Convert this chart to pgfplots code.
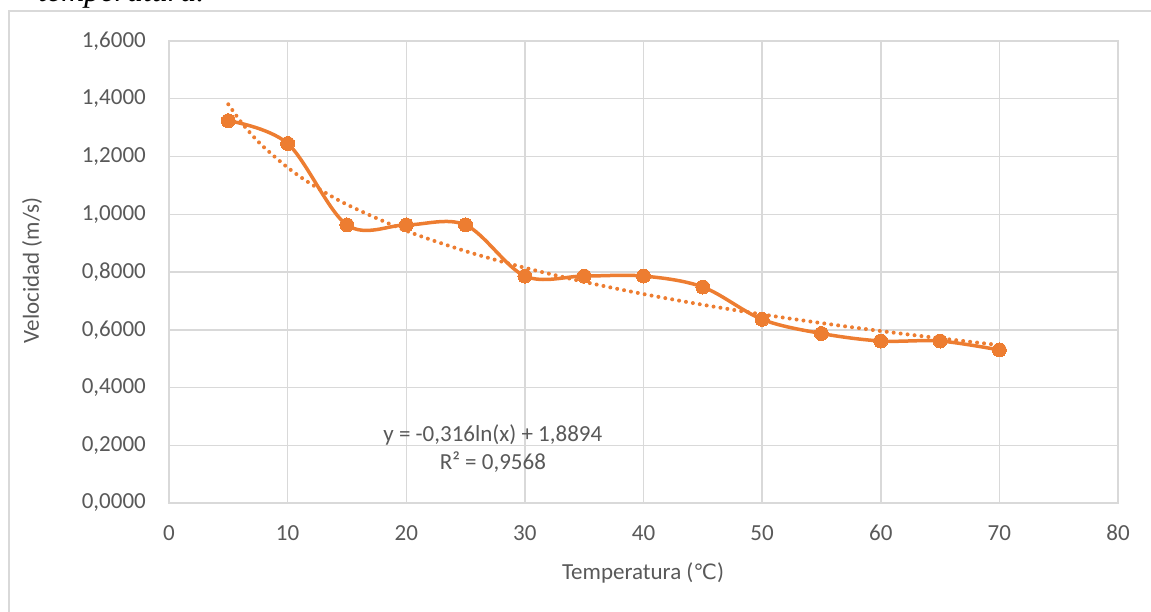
\documentclass[border=0pt]{standalone}
\usepackage{fontspec}
\setmainfont{Carlito}
\newfontfamily\timesfont{Liberation Serif}
\newfontfamily\symfont{DejaVu Sans}
\usepackage{pgfplots}
\pgfplotsset{compat=1.18}
\definecolor{xlorange}{HTML}{ED7D31}
\definecolor{gridgray}{HTML}{D9D9D9}
\definecolor{textgray}{HTML}{595959}

\begin{document}
\begin{tikzpicture}
\useasboundingbox (-169pt,-108pt) rectangle (982pt,503pt);
\clip (-169pt,-108pt) rectangle (982pt,503pt);
% chart frame (cropped in the reference)
\draw[gridgray, line width=1.5pt] (-160pt,-130pt) -- (-160pt,492pt) -- (1000pt,492pt);
\node[anchor=base west, inner sep=0pt, font=\fontsize{32}{36}\selectfont\timesfont\itshape]
  at (-131pt,501.5pt) {temperatura.};
\begin{axis}[
  at={(0pt,0pt)}, anchor=south west,
  scale only axis,
  width=949pt, height=462pt,
  xmin=0, xmax=80, ymin=0, ymax=1.6,
  xtick={0,10,20,30,40,50,60,70,80},
  ytick={0,0.2,0.4,0.6,0.8,1.0,1.2,1.4,1.6},
  grid=major,
  grid style={gridgray, line width=1.5pt},
  axis line style={gridgray, line width=1.5pt},
  major tick length=0pt,
  tick style={draw=none},
  tick label style={font=\fontsize{23}{27}\selectfont, text=textgray},
  yticklabel style={anchor=east, inner sep=0pt, xshift=-23pt,
    /pgf/number format/.cd, fixed, fixed zerofill, precision=4, use comma, 1000 sep={}},
  xticklabel style={anchor=center, inner sep=0pt, yshift=-30pt},
  /pgf/number format/assume math mode=true,
  xlabel={Temperatura ({\symfont\fontsize{21}{25}\selectfont ℃})},
  ylabel={Velocidad (m/s)},
  label style={font=\fontsize{23}{27}\selectfont, text=textgray},
  xlabel style={at={(axis description cs:0.4995,-0.1515)}, anchor=center, inner sep=0pt},
  ylabel style={at={(axis description cs:-0.1444,0.504)}, anchor=center, inner sep=0pt, rotate=0},
  clip=false,
]
% logarithmic trend line, values of y = -0.316 ln(x) + 1.8894
\addplot[xlorange, line width=4pt, line cap=round, dash pattern=on 0pt off 7pt, smooth, tension=0.5] coordinates {
(5,1.3808) (6,1.3232) (7,1.2745) (8,1.2323) (10,1.1618) (12,1.1042) (15,1.0336)
(20,0.9427) (25,0.8722) (30,0.8146) (35,0.7659) (40,0.7237) (45,0.6865)
(50,0.6532) (55,0.6231) (60,0.5956) (65,0.5703) (70,0.5469)};
% measured values
\addplot[xlorange, line width=3.5pt, smooth, tension=0.55, mark=*, mark size=7pt,
  mark options={solid, fill=xlorange, draw=xlorange, line width=0pt}] coordinates {
(5,1.324) (10,1.245) (15,0.963) (20,0.963) (25,0.963) (30,0.786) (35,0.786)
(40,0.786) (45,0.748) (50,0.636) (55,0.587) (60,0.561) (65,0.561) (70,0.530)};
\node[align=center, font=\fontsize{23}{27}\selectfont, text=textgray, inner sep=0pt]
  at (axis cs:27.3,0.188) {y = -0,316ln(x) + 1,8894\\[1pt]R² = 0,9568};
\end{axis}
\end{tikzpicture}
\end{document}
